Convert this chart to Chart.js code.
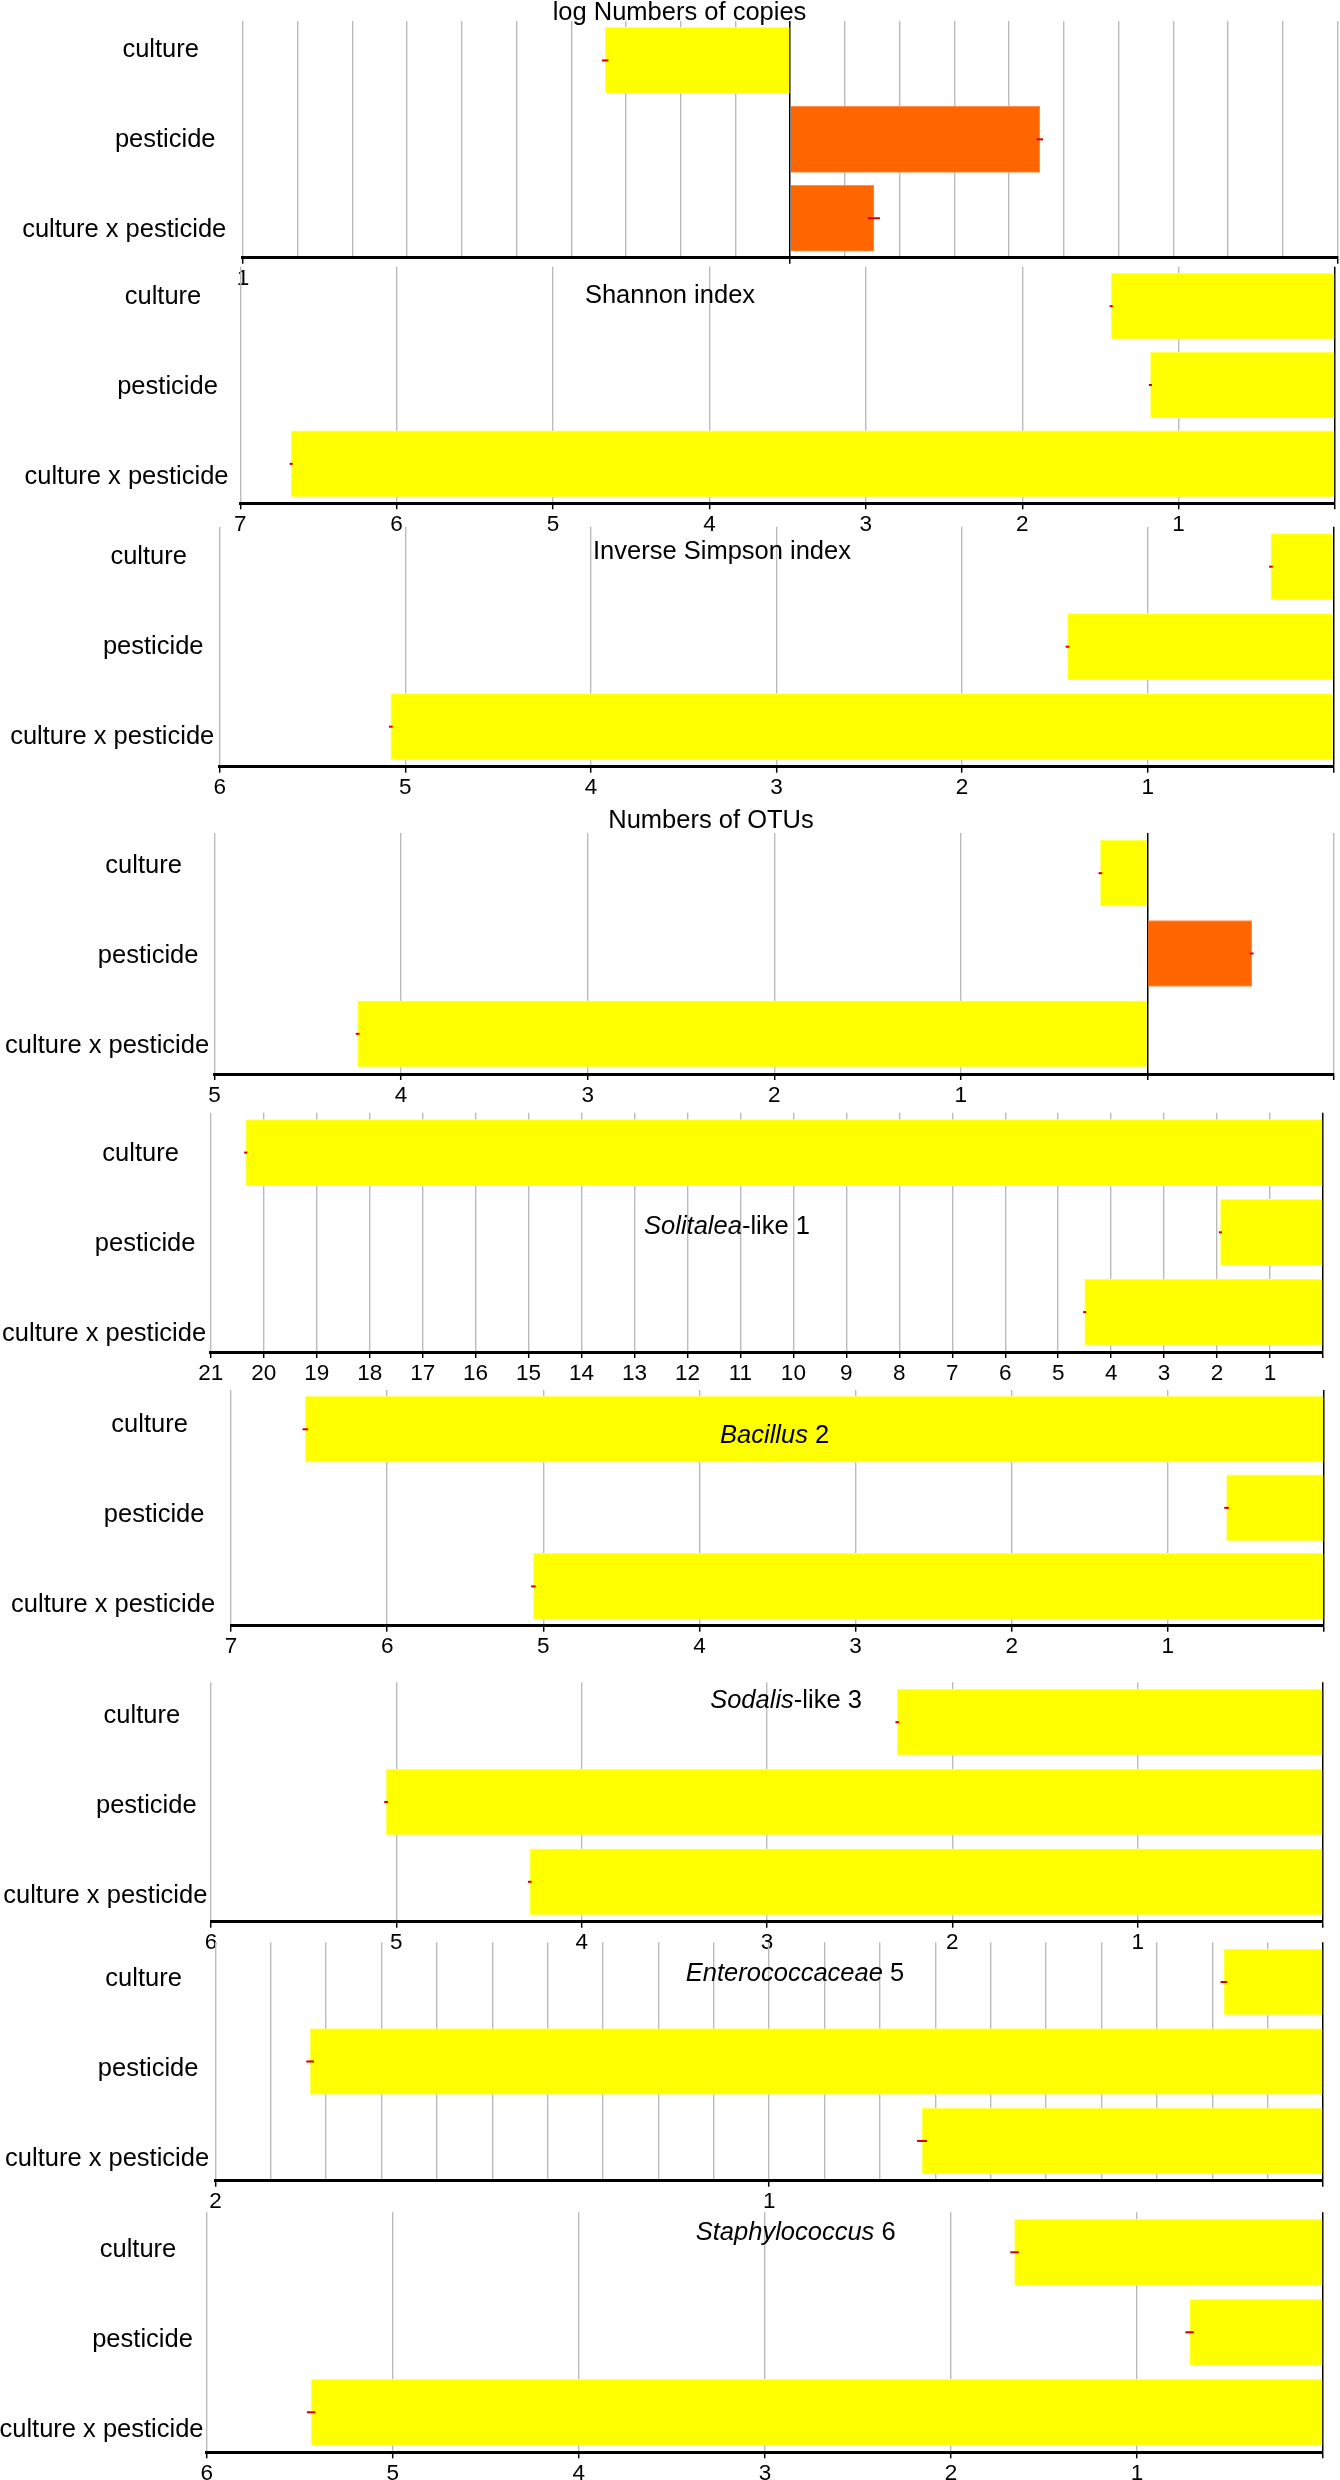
<!DOCTYPE html>
<html>
<head>
<meta charset="utf-8">
<script src="https://cdn.jsdelivr.net/npm/chart.js@4.4.1/dist/chart.umd.min.js"></script>
<style>
  html, body { margin: 0; padding: 0; background: #ffffff; }
  #wrap { position: relative; width: 1340px; height: 2480px; overflow: hidden; background: #ffffff; }
  #wrap canvas { position: absolute; left: 0; }
</style>
</head>
<body>
<div id="wrap"></div>
<script>
// ---------------- DATA ----------------
const categories = ['culture', 'pesticide', 'culture x pesticide'];

// bar values (x axes are reversed: positive to the left)
const logCopiesValues   = [0.338, -0.456, -0.153];
const shannonValues     = [1.431, 1.180, 6.674];
const invSimpsonValues  = [0.336, 1.432, 5.078];
const otuValues         = [0.252, -0.559, 4.233];
const solitaleaValues   = [20.34, 1.937, 4.50];
const bacillusValues    = [6.524, 0.624, 5.063];
const sodalisValues     = [2.297, 5.055, 4.28];
const enteroValues      = [0.179, 1.829, 0.724];
const staphValues       = [1.658, 0.717, 5.439];

// small error half-widths (red dashes at bar ends)
const logCopiesErr  = [0.006, 0.006, 0.011];
const shannonErr    = [0.01, 0.01, 0.01];
const invSimpsonErr = [0.01, 0.01, 0.01];
const otuErr        = [0.01, 0.01, 0.01];
const solitaleaErr  = [0.03, 0.03, 0.03];
const bacillusErr   = [0.018, 0.015, 0.015];
const sodalisErr    = [0.01, 0.01, 0.01];
const enteroErr     = [0.006, 0.007, 0.009];
const staphErr      = [0.023, 0.023, 0.023];

// panel titles: [text, italic]
const logCopiesTitle  = [['log Numbers of copies', false]];
const shannonTitle    = [['Shannon index', false]];
const invSimpsonTitle = [['Inverse Simpson index', false]];
const otuTitle        = [['Numbers of OTUs', false]];
const solitaleaTitle  = [['Solitalea', true], ['-like 1', false]];
const bacillusTitle   = [['Bacillus', true], [' 2', false]];
const sodalisTitle    = [['Sodalis', true], ['-like 3', false]];
const enteroTitle     = [['Enterococcaceae', true], [' 5', false]];
const staphTitle      = [['Staphylococcus', true], [' 6', false]];

// axis ranges / tick steps (labels shown only at positive integers)
const axisMin  = [-1, 0, 0, -1, 0, 0, 0, 0, 0];
const axisMax  = [1, 7, 6, 5, 21, 7, 6, 2, 6];
const axisStep = [0.1, 1, 1, 1, 1, 1, 1, 0.1, 1];

const panelValues = [logCopiesValues, shannonValues, invSimpsonValues, otuValues, solitaleaValues,
                     bacillusValues, sodalisValues, enteroValues, staphValues];
const panelErrors = [logCopiesErr, shannonErr, invSimpsonErr, otuErr, solitaleaErr,
                     bacillusErr, sodalisErr, enteroErr, staphErr];
const panelTitles = [logCopiesTitle, shannonTitle, invSimpsonTitle, otuTitle, solitaleaTitle,
                     bacillusTitle, sodalisTitle, enteroTitle, staphTitle];

// ---------------- LAYOUT (page pixels) ----------------
const layout = [
  { left: 242.9, right: 1337.5, top: 21.0,   bottom: 257.7,  titleX: 679.5, titleBase: 19.5,   labelX: 160.7, labelBase: 57.3 },
  { left: 240.2, right: 1335.0, top: 266.7,  bottom: 503.3,  titleX: 670.0, titleBase: 302.5,  labelX: 163.0, labelBase: 304.3 },
  { left: 219.7, right: 1333.3, top: 526.7,  bottom: 766.7,  titleX: 722.0, titleBase: 559.0,  labelX: 148.7, labelBase: 564.0 },
  { left: 214.5, right: 1334.0, top: 833.0,  bottom: 1074.0, titleX: 711.0, titleBase: 827.5,  labelX: 143.6, labelBase: 873.3 },
  { left: 210.8, right: 1323.0, top: 1112.7, bottom: 1352.0, titleX: 727.0, titleBase: 1233.5, labelX: 140.6, labelBase: 1160.7 },
  { left: 231.0, right: 1324.0, top: 1390.0, bottom: 1625.7, titleX: 774.6, titleBase: 1443.0, labelX: 149.6, labelBase: 1431.7 },
  { left: 211.0, right: 1323.0, top: 1682.3, bottom: 1921.7, titleX: 786.0, titleBase: 1707.5, labelX: 141.8, labelBase: 1723.3 },
  { left: 215.4, right: 1323.0, top: 1942.3, bottom: 2180.7, titleX: 795.0, titleBase: 1980.5, labelX: 143.6, labelBase: 1986.0 },
  { left: 206.8, right: 1323.0, top: 2212.3, bottom: 2452.3, titleX: 795.7, titleBase: 2240.0, labelX: 138.0, labelBase: 2256.7 }
];
const LABEL_DX = [0, 4.5, -36.5];
const LABEL_DY = 90;
const FAMILY = '"Liberation Sans", Arial, Helvetica, sans-serif';
const TEXT_SIZE = 25.5;
const AXIS_H = 40;

Chart.defaults.font.family = FAMILY;

function isInt(v) { return Math.abs(v - Math.round(v)) < 1e-6; }
function isZero(v) { return Math.abs(v) < 1e-9; }

function makeOverlay(idx, canvasTop) {
  const L = layout[idx];
  return {
    id: 'overlay' + idx,
    afterDatasetsDraw(chart) {
      const ctx = chart.ctx;
      const xs = chart.scales.x;
      const meta = chart.getDatasetMeta(0);
      const vals = chart.data.datasets[0].data;
      const errs = panelErrors[idx];
      ctx.save();
      ctx.strokeStyle = '#d00000';
      ctx.lineWidth = 2;
      meta.data.forEach((bar, i) => {
        const x1 = xs.getPixelForValue(vals[i] - errs[i]);
        const x2 = xs.getPixelForValue(vals[i] + errs[i]);
        ctx.beginPath();
        ctx.moveTo(x1, bar.y);
        ctx.lineTo(x2, bar.y);
        ctx.stroke();
      });
      ctx.restore();
    },
    afterDraw(chart) {
      const ctx = chart.ctx;
      ctx.save();
      ctx.fillStyle = '#000';
      ctx.textBaseline = 'alphabetic';
      // title
      const segs = panelTitles[idx];
      let total = 0;
      segs.forEach(s => {
        ctx.font = (s[1] ? 'italic ' : '') + TEXT_SIZE + 'px ' + FAMILY;
        total += ctx.measureText(s[0]).width;
      });
      let x = L.titleX - total / 2;
      ctx.textAlign = 'left';
      segs.forEach(s => {
        ctx.font = (s[1] ? 'italic ' : '') + TEXT_SIZE + 'px ' + FAMILY;
        ctx.fillText(s[0], x, L.titleBase - canvasTop);
        x += ctx.measureText(s[0]).width;
      });
      // category labels
      ctx.font = TEXT_SIZE + 'px ' + FAMILY;
      ctx.textAlign = 'center';
      chart.data.labels.forEach((lab, i) => {
        ctx.fillText(lab, L.labelX + LABEL_DX[i], L.labelBase + LABEL_DY * i - canvasTop);
      });
      ctx.restore();
    }
  };
}

const wrap = document.getElementById('wrap');

layout.forEach((L, idx) => {
  const canvasTop = Math.max(0, Math.floor(L.top - 40));
  const height = Math.ceil(L.bottom - canvasTop + AXIS_H);
  const canvas = document.createElement('canvas');
  canvas.width = 1340;
  canvas.height = height;
  canvas.style.width = '1340px';
  canvas.style.height = height + 'px';
  canvas.style.top = canvasTop + 'px';
  wrap.appendChild(canvas);

  const vals = panelValues[idx];
  const padBottom = height - AXIS_H - (L.bottom - canvasTop);

  new Chart(canvas, {
    type: 'bar',
    data: {
      labels: categories,
      datasets: [{
        data: vals,
        backgroundColor: vals.map(v => v >= 0 ? '#ffff00' : '#ff6600'),
        borderColor: vals.map(v => v >= 0 ? '#ffff70' : '#ff9050'),
        borderWidth: 1,
        barThickness: 66
      }]
    },
    options: {
      indexAxis: 'y',
      responsive: false,
      animation: false,
      devicePixelRatio: 1,
      layout: {
        padding: { top: L.top - canvasTop, left: L.left, right: 1340 - L.right, bottom: padBottom }
      },
      plugins: { legend: { display: false }, tooltip: { enabled: false }, title: { display: false } },
      scales: {
        y: { type: 'category', display: false, offset: true },
        x: {
          type: 'linear',
          reverse: true,
          min: axisMin[idx],
          max: axisMax[idx],
          afterFit: (scale) => { scale.height = AXIS_H; },
          grid: {
            color: c => (c.tick && isZero(c.tick.value)) ? '#000000' : '#bbbbbb',
            lineWidth: c => (c.tick && isZero(c.tick.value)) ? 1.5 : 1.4,
            tickColor: c => (c.tick && isInt(c.tick.value)) ? '#000000' : 'rgba(0,0,0,0)',
            tickWidth: 1.5,
            tickLength: 6,
            drawTicks: true,
            drawOnChartArea: true
          },
          border: { display: true, color: '#000000', width: 3 },
          ticks: {
            stepSize: axisStep[idx],
            maxTicksLimit: 100,
            autoSkip: false,
            maxRotation: 0,
            minRotation: 0,
            padding: 2,
            color: '#000000',
            font: { size: 22.5, family: FAMILY },
            callback: (v) => (v > 0 && isInt(v)) ? String(Math.round(v)) : ''
          }
        }
      }
    },
    plugins: [makeOverlay(idx, canvasTop)]
  });
});
</script>
</body>
</html>
